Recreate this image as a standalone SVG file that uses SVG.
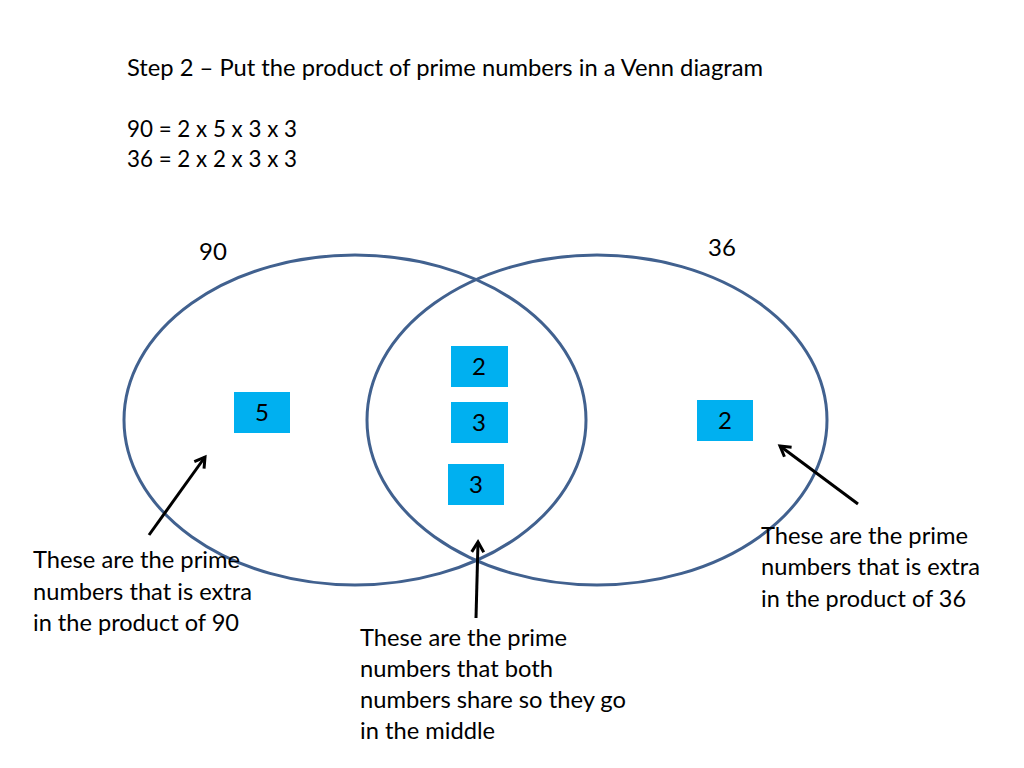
<svg xmlns="http://www.w3.org/2000/svg" width="1024" height="768" viewBox="0 0 1024 768">
<style>
text { font-family: "Lato", "Liberation Sans", sans-serif; font-size: 24px; fill: #000; }
.num { font-size: 24px; text-anchor: middle; }
.set { fill: none; stroke: #41618F; stroke-width: 3; }
.box { fill: #00B0F0; }
.arrow { stroke: #000; stroke-width: 3; fill: none; marker-end: url(#ah); }
</style>
<defs>
<marker id="ah" markerUnits="userSpaceOnUse" markerWidth="16" markerHeight="16" refX="13" refY="8" orient="auto">
<path d="M3,2 L13,8 L3,14" fill="none" stroke="#000" stroke-width="3"/>
</marker>
</defs>
<rect width="1024" height="768" fill="#fff"/>
<g id="heading">
<text x="127" y="76" textLength="636" lengthAdjust="spacingAndGlyphs">Step 2 – Put the product of prime numbers in a Venn diagram</text>
<text x="127" y="137" textLength="170" lengthAdjust="spacingAndGlyphs">90 = 2 x 5 x 3 x 3</text>
<text x="127" y="167" textLength="170" lengthAdjust="spacingAndGlyphs">36 = 2 x 2 x 3 x 3</text>
</g>
<g id="set90">
<ellipse class="set" cx="355" cy="420" rx="231" ry="165"/>
<text x="199" y="260">90</text>
</g>
<g id="set36">
<ellipse class="set" cx="597" cy="420" rx="230" ry="165"/>
<text x="708" y="256">36</text>
</g>
<g id="box5"><rect class="box" x="234" y="392" width="56" height="41"/><text class="num" x="262" y="421">5</text></g>
<g id="box2mid"><rect class="box" x="451" y="346" width="57" height="41"/><text class="num" x="479" y="375">2</text></g>
<g id="box3mid"><rect class="box" x="451" y="402" width="57" height="41"/><text class="num" x="479" y="431">3</text></g>
<g id="box3low"><rect class="box" x="448" y="464" width="56" height="41"/><text class="num" x="476" y="493">3</text></g>
<g id="box2right"><rect class="box" x="697" y="400" width="56" height="41"/><text class="num" x="725" y="429">2</text></g>
<g id="connectors">
<line class="arrow" x1="149" y1="535" x2="205" y2="457"/>
<line class="arrow" x1="476" y1="618" x2="478" y2="542"/>
<line class="arrow" x1="858" y1="504" x2="780" y2="446"/>
</g>
<g id="note90">
<text x="33" y="568" textLength="207" lengthAdjust="spacingAndGlyphs">These are the prime</text>
<text x="33" y="600" textLength="219" lengthAdjust="spacingAndGlyphs">numbers that is extra</text>
<text x="33" y="631" textLength="206" lengthAdjust="spacingAndGlyphs">in the product of 90</text>
</g>
<g id="noteMiddle">
<text x="360" y="646" textLength="207" lengthAdjust="spacingAndGlyphs">These are the prime</text>
<text x="360" y="677" textLength="193" lengthAdjust="spacingAndGlyphs">numbers that both</text>
<text x="360" y="708" textLength="266" lengthAdjust="spacingAndGlyphs">numbers share so they go</text>
<text x="360" y="739" textLength="135" lengthAdjust="spacingAndGlyphs">in the middle</text>
</g>
<g id="note36">
<text x="761" y="544" textLength="207" lengthAdjust="spacingAndGlyphs">These are the prime</text>
<text x="761" y="575" textLength="219" lengthAdjust="spacingAndGlyphs">numbers that is extra</text>
<text x="761" y="607" textLength="205" lengthAdjust="spacingAndGlyphs">in the product of 36</text>
</g>
</svg>
